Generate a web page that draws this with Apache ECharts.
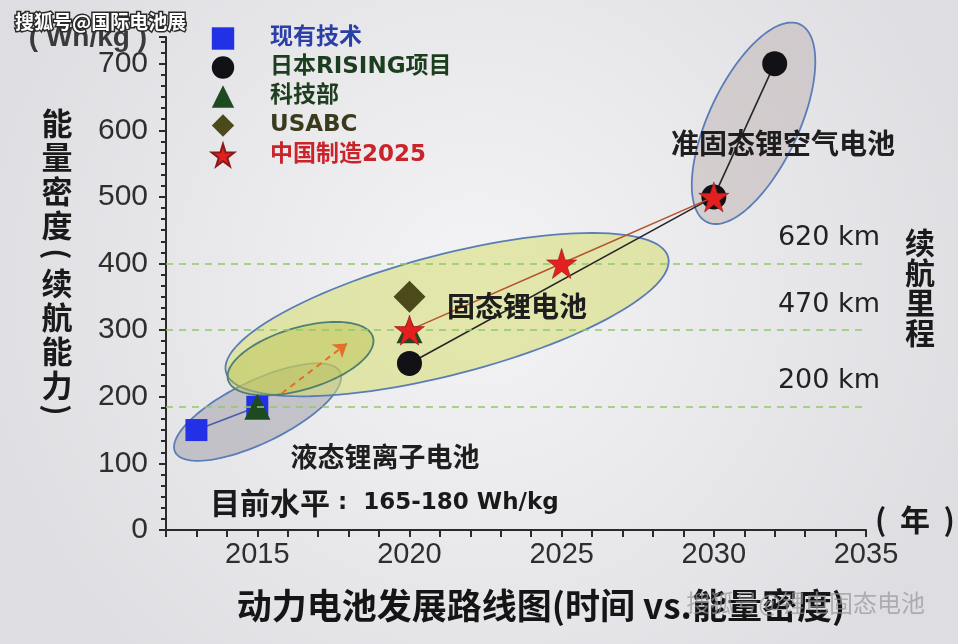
<!DOCTYPE html>
<html><head><meta charset="utf-8">
<script src="https://cdn.jsdelivr.net/npm/echarts@6/dist/echarts.min.js"></script>
<style>html,body{margin:0;padding:0;background:#e8e8eb;} #main{width:958px;height:644px;}</style>
</head><body><div id="main"></div>
<script>
// ---------- data ----------
const xTickYears = [2015, 2020, 2025, 2030, 2035];
const seriesNames = ['现有技术', '日本RISING项目', '科技部', 'USABC', '中国制造2025'];
const currentTech = [[2013, 150], [2015, 185]];
const risingJapan = [[2020, 250], [2030, 500], [2032, 700]];
const mostChina = [[2015, 185], [2020, 300]];
const usabc = [[2020, 350]];
const madeInChina = [[2020, 300], [2025, 400], [2030, 500]];
const rangeLevels = [185, 300, 400];
const rangeLabels = ['200 km', '470 km', '620 km'];
// ellipse regions: ends of the long axis [x1, y1, x2, y2]
const regionNames = ['液态锂离子电池', '固态锂电池', '过渡', '准固态锂空气电池'];
const regionAxes = [
  [2012.3, 117, 2017.72, 237],
  [2013.97, 237, 2028.5, 409.5],
  [2014.04, 225, 2018.8, 289.5],
  [2029.78, 462, 2032.83, 759]
];
const trendArrow = [[2015.8, 205], [2017.95, 280]];

// ---------- styles ----------
const regionStyle = [
  { b: 31, fill: 'rgba(170,170,178,0.62)', stroke: '#5a7db8' },
  { b: 60, fill: 'rgba(215,220,110,0.55)', stroke: '#5a7db5' },
  { b: 31, fill: 'rgba(185,190,75,0.45)', stroke: '#4f7f70' },
  { b: 45, fill: 'rgba(195,183,183,0.55)', stroke: '#5a7db8' }
];
const legendColors = ['#2a3fa8', '#1d3d1f', '#1f3d1f', '#3b3a1c', '#c8242a'];
const starPath = 'path://M50,0 L61.2,34.5 L97.6,34.5 L68.2,55.9 L79.4,90.5 L50,69.1 L20.6,90.5 L31.8,55.9 L2.4,34.5 L38.8,34.5 Z';
const latin = "'Liberation Sans', Arial, sans-serif";
const cjk = "'Noto Sans CJK SC', sans-serif";
const wide = "'DejaVu Sans', 'Noto Sans CJK SC', sans-serif";

function renderRegion(params, api) {
  const st = regionStyle[params.dataIndex];
  const p1 = api.coord([api.value(0), api.value(1)]);
  const p2 = api.coord([api.value(2), api.value(3)]);
  const cx = (p1[0] + p2[0]) / 2, cy = (p1[1] + p2[1]) / 2;
  const a = Math.hypot(p2[0] - p1[0], p2[1] - p1[1]) / 2;
  const ang = Math.atan2(p2[1] - p1[1], p2[0] - p1[0]);
  const b = st.b;
  const pts = [];
  for (let k = 0; k < 120; k++) {
    const t = k / 120 * Math.PI * 2;
    const ex = a * Math.cos(t), ey = b * Math.sin(t);
    pts.push([cx + ex * Math.cos(ang) - ey * Math.sin(ang), cy + ex * Math.sin(ang) + ey * Math.cos(ang)]);
  }
  return { type: 'polygon', shape: { points: pts }, style: { fill: st.fill, stroke: st.stroke, lineWidth: 1.8 } };
}

const chart = echarts.init(document.getElementById('main'));
const option = {
  animation: false,
  backgroundColor: {
    type: 'radial', x: 0.5, y: 0.45, r: 0.8,
    colorStops: [{ offset: 0, color: '#f4f4f6' }, { offset: 1, color: '#dedee2' }]
  },
  grid: { left: 166, right: 92, top: 37, bottom: 114 },
  xAxis: {
    type: 'value', min: 2012, max: 2035, interval: 1,
    axisLine: { show: true, lineStyle: { color: '#2a2a2a', width: 2 } },
    axisTick: { show: true, length: 7, lineStyle: { color: '#2a2a2a', width: 2 } },
    axisLabel: {
      interval: 0, margin: 10, fontSize: 29, color: '#2e2e2e', fontFamily: latin,
      formatter: v => (xTickYears.indexOf(v) >= 0 ? String(v) : '')
    },
    splitLine: { show: false }
  },
  yAxis: {
    type: 'value', min: 0, max: 740, interval: 100,
    axisLine: { show: true, lineStyle: { color: '#2a2a2a', width: 2 } },
    axisTick: { show: true, length: 7, lineStyle: { color: '#2a2a2a', width: 2 } },
    minorTick: { show: true, splitNumber: 6, length: 5, lineStyle: { color: '#2a2a2a', width: 2 } },
    axisLabel: { margin: 18, fontSize: 30, color: '#2e2e2e', fontFamily: latin, showMaxLabel: false },
    splitLine: { show: false }
  },
  legend: {
    orient: 'vertical', left: 176, top: 22,
    itemWidth: 84, itemHeight: 28, itemGap: 6,
    selectedMode: false,
    lineStyle: { width: 0, opacity: 0 },
    textStyle: { fontSize: 23, fontWeight: 'bold', fontFamily: wide },
    data: seriesNames.map((n, i) => ({ name: n, textStyle: { color: legendColors[i] } }))
  },
  series: [
    {
      type: 'custom', name: '区域', coordinateSystem: 'cartesian2d',
      data: regionAxes, encode: { x: [0, 2], y: [1, 3] },
      renderItem: renderRegion, clip: false, silent: true, z: 1
    },
    {
      type: 'lines', coordinateSystem: 'cartesian2d', silent: true, z: 3,
      data: [{ coords: trendArrow }],
      symbol: ['none', 'arrow'], symbolSize: [0, 13],
      lineStyle: { color: '#e0702a', width: 2, type: [6, 5], opacity: 1 }
    },
    {
      type: 'line', name: seriesNames[0], data: currentTech, z: 4,
      symbol: 'rect', symbolSize: 22,
      itemStyle: { color: '#2230e6' },
      lineStyle: { color: '#4a5ca8', width: 1.6 },
      markLine: {
        silent: true, symbol: 'none',
        lineStyle: { color: '#8fca68', type: [7, 6], width: 1.6 },
        label: { show: true, position: 'insideEndTop', distance: [-14, 12], fontSize: 27, color: '#222', fontFamily: wide },
        data: rangeLevels.map((v, i) => ({ yAxis: v, label: { formatter: rangeLabels[i] } }))
      }
    },
    {
      type: 'line', name: seriesNames[1], data: risingJapan, z: 4,
      symbol: 'circle', symbolSize: 25,
      itemStyle: { color: '#111116' },
      lineStyle: { color: '#26262a', width: 1.6 }
    },
    {
      type: 'line', name: seriesNames[2], data: mostChina, z: 4,
      symbol: 'triangle', symbolSize: 26,
      itemStyle: { color: '#1e4a22' },
      lineStyle: { opacity: 0 }
    },
    {
      type: 'line', name: seriesNames[3], data: usabc, z: 4,
      symbol: 'diamond', symbolSize: [32, 32],
      itemStyle: { color: '#4a4a1a' },
      lineStyle: { opacity: 0 }
    },
    {
      type: 'line', name: seriesNames[4], data: madeInChina, z: 5,
      symbol: starPath, symbolSize: 30,
      itemStyle: { color: '#e3201f', borderColor: '#8a1a1a', borderWidth: 0.6 },
      lineStyle: { color: '#b5552e', width: 1.6 }
    }
  ],
  graphic: [
    { type: 'text', x: 147, y: 38, z: 10, style: { text: '( Wh/kg )', font: 'bold 28px ' + latin, fill: '#3a3a3a', align: 'right', verticalAlign: 'middle' } },
    { type: 'text', x: 15, y: 22, z: 20, style: { text: '搜狐号@国际电池展', font: 'bold 19px ' + cjk, fill: '#ffffff', stroke: '#2a2a2a', lineWidth: 3, align: 'left', verticalAlign: 'middle' } },
    { type: 'text', x: 57, y: 106, z: 10, style: { text: '能\n量\n密\n度', font: 'bold 31px ' + cjk, fill: '#1a1a1a', lineHeight: 34, align: 'center', verticalAlign: 'top' } },
    { type: 'text', x: 57, y: 254, rotation: -Math.PI / 2, z: 10, style: { text: '(', font: 'bold 30px ' + cjk, fill: '#1a1a1a', align: 'center', verticalAlign: 'middle' } },
    { type: 'text', x: 57, y: 266, z: 10, style: { text: '续\n航\n能\n力', font: 'bold 31px ' + cjk, fill: '#1a1a1a', lineHeight: 34, align: 'center', verticalAlign: 'top' } },
    { type: 'text', x: 57, y: 410, rotation: -Math.PI / 2, z: 10, style: { text: ')', font: 'bold 30px ' + cjk, fill: '#1a1a1a', align: 'center', verticalAlign: 'middle' } },
    { type: 'text', x: 920, y: 228, z: 10, style: { text: '续\n航\n里\n程', font: 'bold 30px ' + cjk, fill: '#1a1a1a', lineHeight: 30, align: 'center', verticalAlign: 'top' } },
    { type: 'text', x: 915, y: 520, z: 10, style: { text: '(  年  )', font: 'bold 30px ' + cjk, fill: '#1a1a1a', align: 'center', verticalAlign: 'middle' } },
    { type: 'text', x: 385, y: 457, z: 10, style: { text: '液态锂离子电池', font: 'bold 27px ' + cjk, fill: '#1e1e1e', align: 'center', verticalAlign: 'middle' } },
    { type: 'text', x: 210, y: 503, z: 10, style: {
        text: '{c|目前水平}{n| :  165-180 Wh/kg}', align: 'left', verticalAlign: 'middle',
        rich: { c: { font: 'bold 30px ' + cjk, fill: '#1a1a1a' }, n: { font: 'bold 23px ' + wide, fill: '#1a1a1a' } } } },
    { type: 'text', x: 517, y: 306, z: 10, style: { text: '固态锂电池', font: 'bold 28px ' + cjk, fill: '#1e1e1e', align: 'center', verticalAlign: 'middle' } },
    { type: 'text', x: 783, y: 143, z: 10, style: { text: '准固态锂空气电池', font: 'bold 28px ' + cjk, fill: '#1e1e1e', align: 'center', verticalAlign: 'middle' } },
    { type: 'text', x: 541, y: 606, z: 10, style: { text: '动力电池发展路线图(时间 vs.能量密度)', font: 'bold 35px ' + cjk, fill: '#151515', align: 'center', verticalAlign: 'middle' } },
    { type: 'text', x: 925, y: 603, z: 11, style: { text: '搜狐号@锂电固态电池', font: '24px ' + cjk, fill: 'rgba(150,150,155,0.7)', align: 'right', verticalAlign: 'middle' } }
  ]
};
chart.setOption(option);
</script>
</body></html>
